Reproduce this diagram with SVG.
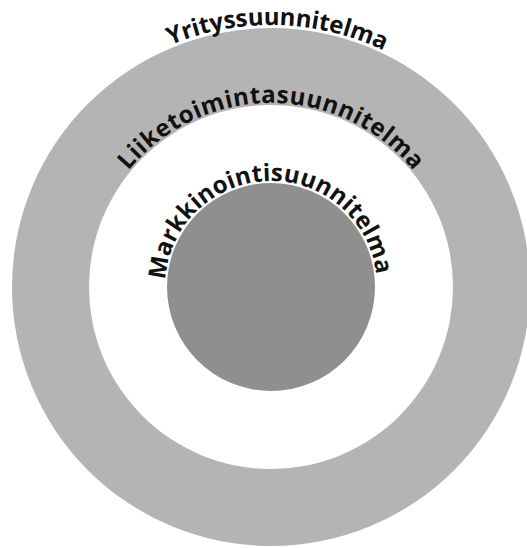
<svg xmlns="http://www.w3.org/2000/svg" width="527" height="548" viewBox="0 0 527 548">
  <style>
    .lbl { font-family: "Open Sans", "Liberation Sans", sans-serif; font-weight: 700; font-size: 24px; fill: #111; }
  </style>
  <defs>
    <path id="arcOuter" d="M 9,287 A 262 262 0 0 1 533,287"/>
    <path id="arcMid" d="M 87,287 A 184 184 0 0 1 455,287"/>
    <path id="arcInner" d="M 165,287 A 106 106 0 0 1 377,287"/>
  </defs>
  <rect width="527" height="548" fill="#ffffff"/>
  <g id="yrityssuunnitelma">
    <circle cx="271" cy="287" r="259" fill="#b4b4b4"/>
  </g>
  <g id="liiketoimintasuunnitelma">
    <circle cx="271" cy="287" r="182" fill="#ffffff"/>
  </g>
  <g id="markkinointisuunnitelma">
    <circle cx="271" cy="287" r="104" fill="#8f8f8f"/>
  </g>
  <g id="labels">
    <text class="lbl"><textPath href="#arcOuter" startOffset="50.8%" text-anchor="middle" textLength="220" lengthAdjust="spacing">Yrityssuunnitelma</textPath></text>
    <text class="lbl"><textPath href="#arcMid" startOffset="50%" text-anchor="middle" textLength="326" lengthAdjust="spacing">Liiketoimintasuunnitelma</textPath></text>
    <text class="lbl"><textPath href="#arcInner" startOffset="49.2%" text-anchor="middle" textLength="313" lengthAdjust="spacing">Markkinointisuunnitelma</textPath></text>
  </g>
</svg>
